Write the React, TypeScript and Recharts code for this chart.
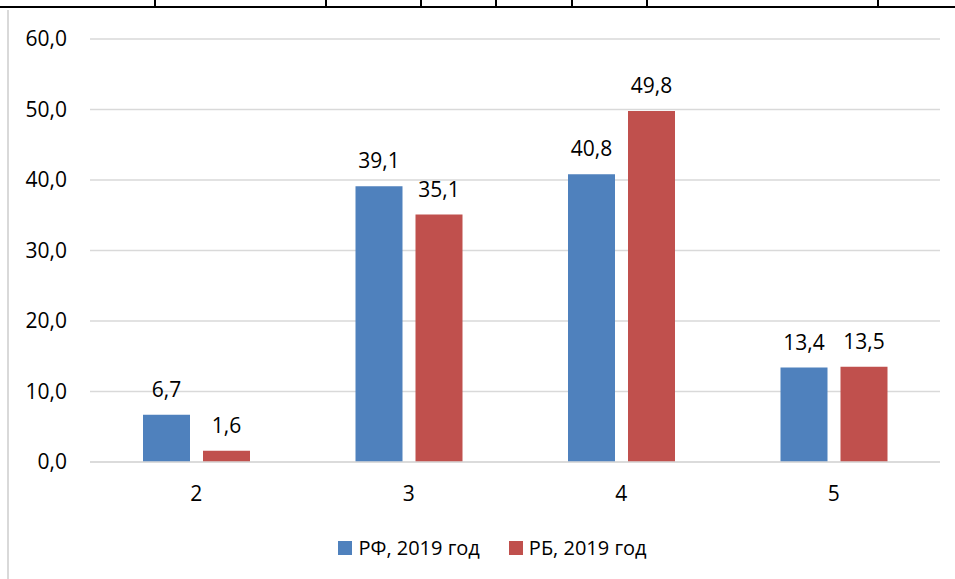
import React from 'react';
import { BarChart, Bar, XAxis, YAxis, CartesianGrid, LabelList } from 'recharts';

const categories = ['2', '3', '4', '5'];
const rfValues = [6.7, 39.1, 40.8, 13.4];
const rbValues = [1.6, 35.1, 49.8, 13.5];
const yTicks = [0, 10, 20, 30, 40, 50, 60];
const seriesNames = ['РФ, 2019 год', 'РБ, 2019 год'];

const BLUE = '#4f81bd';
const RED = '#c0504d';
const FONT = '"Open Sans", sans-serif';

const data = categories.map((name, i) => ({ name, rf: rfValues[i], rb: rbValues[i] }));

const fmt = (v: any) => Number(v).toFixed(1).replace('.', ',');

const tableTicks = [154, 325, 420, 495, 571, 646, 877];

const App: React.FC = () => {
  return (
    <div style={{ position: 'absolute', left: 0, top: 0, width: 955, height: 579, background: '#fff', fontFamily: FONT }}>
      <div style={{ position: 'absolute', left: 0, top: 0 }}>
        <BarChart
          width={955}
          height={579}
          data={data}
          margin={{ top: 39, right: 15, left: 0, bottom: 0 }}
          barSize={47}
          barGap={13}
        >
          <CartesianGrid vertical={false} stroke="#d9d9d9" strokeWidth={1.5} />
          <XAxis
            dataKey="name"
            tickLine={false}
            axisLine={{ stroke: '#d9d9d9', strokeWidth: 1.5 }}
            tick={{ fill: '#000', fontSize: 21, fontFamily: FONT }}
            tickMargin={18}
            height={117}
          />
          <YAxis
            width={90}
            domain={[0, 60]}
            ticks={yTicks}
            tickFormatter={fmt}
            tickLine={false}
            axisLine={false}
            tick={{ fill: '#000', fontSize: 21, fontFamily: FONT }}
            tickMargin={17}
          />
          <Bar dataKey="rf" fill={BLUE} isAnimationActive={false}>
            <LabelList dataKey="rf" position="top" offset={18} formatter={fmt} fill="#000" fontSize={21} fontFamily={FONT} />
          </Bar>
          <Bar dataKey="rb" fill={RED} isAnimationActive={false}>
            <LabelList dataKey="rb" position="top" offset={18} formatter={fmt} fill="#000" fontSize={21} fontFamily={FONT} />
          </Bar>
        </BarChart>
      </div>

      {/* cut-off table border above the chart */}
      <div style={{ position: 'absolute', left: 0, top: 6, width: 955, height: 2, background: '#000', zIndex: 2 }} />
      {tableTicks.map((x) => (
        <div key={x} style={{ position: 'absolute', left: x, top: 0, width: 2, height: 7, background: '#000', zIndex: 2 }} />
      ))}
      <div style={{ position: 'absolute', left: 7, top: 10, width: 2, height: 569, background: '#d9d9d9', zIndex: 2 }} />

      {/* legend */}
      <div style={{ position: 'absolute', top: 534, left: 0, width: 955, display: 'flex', justifyContent: 'center', paddingLeft: 30, boxSizing: 'border-box', fontSize: 20, color: '#000' }}>
        {seriesNames.map((name, i) => (
          <div key={name} style={{ display: 'flex', alignItems: 'center', marginRight: i === 0 ? 29 : 0 }}>
            <span style={{ display: 'inline-block', width: 14, height: 14, background: i === 0 ? BLUE : RED, marginRight: 6 }} />
            <span>{name}</span>
          </div>
        ))}
      </div>
    </div>
  );
};

export default App;
